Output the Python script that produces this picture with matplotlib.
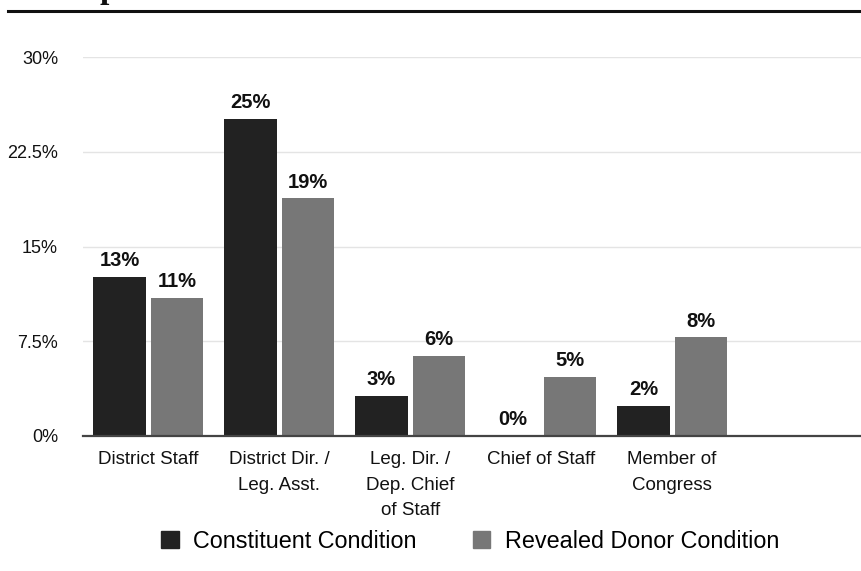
import matplotlib
matplotlib.use("Agg")
import matplotlib.pyplot as plt
from matplotlib.lines import Line2D
from matplotlib.patches import Patch
import numpy as np

categories = ["District Staff", "District Dir. /\nLeg. Asst.", "Leg. Dir. /\nDep. Chief\nof Staff",
              "Chief of Staff", "Member of\nCongress"]
constituent = [12.6, 25.1, 3.2, 0.0, 2.4]
donor = [10.9, 18.8, 6.3, 4.7, 7.8]
constituent_labels = ["13%", "25%", "3%", "0%", "2%"]
donor_labels = ["11%", "19%", "6%", "5%", "8%"]
yticks = [0, 7.5, 15, 22.5, 30]
ytick_labels = ["0%", "7.5%", "15%", "22.5%", "30%"]

dark = "#222222"
gray = "#777777"

plt.rcParams["font.family"] = ["Liberation Sans", "DejaVu Sans"]

fig = plt.figure(figsize=(8.62, 5.71), dpi=100)
ax = fig.add_axes([83 / 862, 1 - 436 / 571, 1 - 83 / 862, (436 - 57) / 571])

x = np.arange(len(categories))
w = 0.40
off = 0.22
b1 = ax.bar(x - off, constituent, w, color=dark, zorder=3)
b2 = ax.bar(x + off, donor, w, color=gray, zorder=3)

for bars, labels in ((b1, constituent_labels), (b2, donor_labels)):
    for rect, lab in zip(bars, labels):
        ax.annotate(lab, (rect.get_x() + rect.get_width() / 2, rect.get_height()),
                    xytext=(0, 5), textcoords="offset points", ha="center", va="bottom",
                    fontsize=14.5, fontweight="bold", color="#111111")

ax.set_xlim(-0.5, 5.45)
ax.set_ylim(0, 30)
ax.set_yticks(yticks)
ax.set_yticklabels(ytick_labels)
ax.set_xticks(x)
ax.set_xticklabels(categories, linespacing=1.65)
ax.tick_params(axis="y", length=0, pad=18, labelsize=13, labelcolor="#111111")
ax.tick_params(axis="x", length=0, pad=11, labelsize=13.5, labelcolor="#111111")
ax.grid(axis="y", color="#e4e4e4", linewidth=1, zorder=0)
for s in ("top", "right", "left"):
    ax.spines[s].set_visible(False)
ax.spines["bottom"].set_color("#444444")
ax.spines["bottom"].set_linewidth(1.6)
ax.spines["bottom"].set_zorder(4)

handles = [Patch(color=dark), Patch(color=gray)]
fig.legend(handles, ["Constituent Condition", "Revealed Donor Condition"],
           loc="center", bbox_to_anchor=(470 / 862, 1 - 541 / 571), ncol=2, frameon=False,
           fontsize=16.8, handlelength=0.75, handleheight=0.75, handletextpad=0.62,
           columnspacing=2.4)

# page header remnants
fig.add_artist(Line2D([8 / 862, 1], [1 - 11 / 571, 1 - 11 / 571], color="#111111", linewidth=2.2))
fig.text(100 / 862, 1 + 2 / 571, "p", family="Liberation Serif", fontweight="bold",
         fontsize=24, ha="left", va="baseline", color="#111111")

fig.savefig("out.png", dpi=100)
